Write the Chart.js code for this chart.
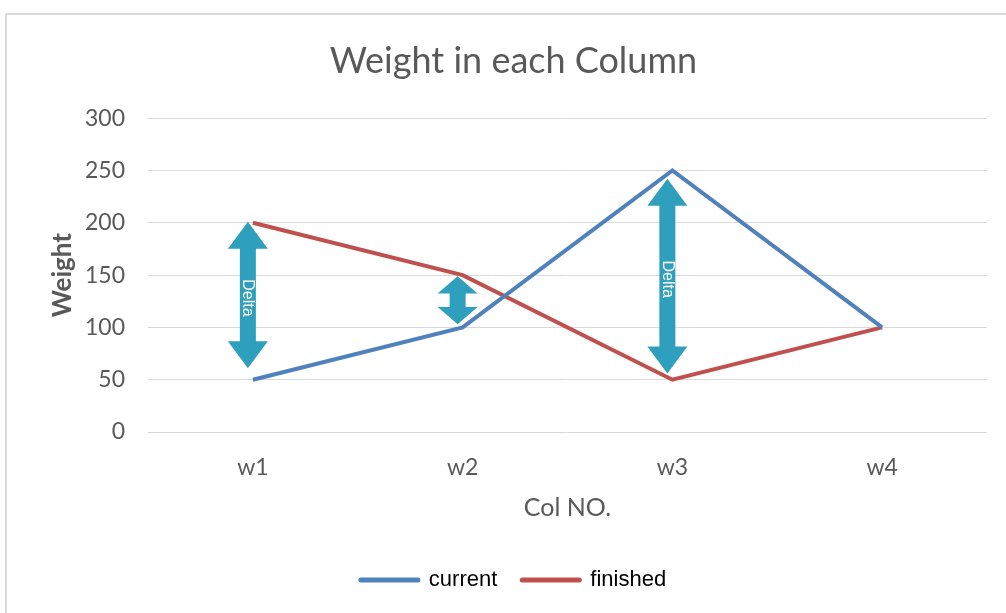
<!DOCTYPE html>
<html>
<head>
<meta charset="utf-8">
<title>Weight in each Column</title>
<script src="https://cdn.jsdelivr.net/npm/chart.js@4.4.1/dist/chart.umd.min.js"></script>
<style>
  html, body { margin: 0; padding: 0; background: #ffffff; }
  #frame {
    position: absolute; left: 5px; top: 13px; width: 1001px; height: 600px;
    border-left: 2px solid #dadada; border-top: 2px solid #dadada; box-sizing: border-box;
  }
  #wrap { position: absolute; left: 0; top: 0; width: 1006px; height: 613px; }
</style>
</head>
<body>
<div id="frame"></div>
<div id="wrap"><canvas id="c" width="1006" height="613"></canvas></div>
<script>
// Column weights
const categories = ['w1', 'w2', 'w3', 'w4'];
const currentValues = [50, 100, 250, 100];
const finishedValues = [200, 150, 50, 100];
const yTicks = [0, 50, 100, 150, 200, 250, 300];

// Delta arrows between the two series
const deltaCategories = ['w1', 'w2', 'w3'];
const deltaTop = [201, 149, 242];
const deltaBottom = [61, 103, 56];
const deltaText = ['Delta', '', 'Delta'];

const GREY = '#595959';
const ARROW_SHIFT = -5;

const deltaArrows = {
  id: 'deltaArrows',
  afterDatasetsDraw(chart) {
    const { ctx } = chart;
    const x = chart.scales.x, y = chart.scales.y;
    deltaCategories.forEach((cat, i) => {
      const cx = x.getPixelForValue(categories.indexOf(cat)) + ARROW_SHIFT;
      const yTop = y.getPixelForValue(deltaTop[i]);
      const yBot = y.getPixelForValue(deltaBottom[i]);
      const len = yBot - yTop;
      const shaft = 16, head = 40;
      const headLen = Math.min(27, len * 0.36);
      ctx.save();
      ctx.fillStyle = '#2f9fbe';
      ctx.beginPath();
      ctx.moveTo(cx, yTop);
      ctx.lineTo(cx + head / 2, yTop + headLen);
      ctx.lineTo(cx + shaft / 2, yTop + headLen);
      ctx.lineTo(cx + shaft / 2, yBot - headLen);
      ctx.lineTo(cx + head / 2, yBot - headLen);
      ctx.lineTo(cx, yBot);
      ctx.lineTo(cx - head / 2, yBot - headLen);
      ctx.lineTo(cx - shaft / 2, yBot - headLen);
      ctx.lineTo(cx - shaft / 2, yTop + headLen);
      ctx.lineTo(cx - head / 2, yTop + headLen);
      ctx.closePath();
      ctx.fill();
      if (deltaText[i]) {
        ctx.translate(cx, (yTop + yBot) / 2 + 3);
        ctx.rotate(Math.PI / 2);
        ctx.fillStyle = '#ffffff';
        ctx.font = '16px "Liberation Sans", Arial, sans-serif';
        ctx.textAlign = 'center';
        ctx.textBaseline = 'middle';
        ctx.fillText(deltaText[i], 0, 0);
      }
      ctx.restore();
    });
  }
};

const font = (size, weight) => ({ family: 'Lato, "Open Sans", sans-serif', size, weight: weight || 'normal' });

new Chart(document.getElementById('c'), {
  type: 'line',
  data: {
    labels: categories,
    datasets: [
      { label: 'current', data: currentValues, borderColor: '#4F81BD', backgroundColor: '#4F81BD',
        borderWidth: 4, pointRadius: 0, tension: 0 },
      { label: 'finished', data: finishedValues, borderColor: '#C0504D', backgroundColor: '#C0504D',
        borderWidth: 4, pointRadius: 0, tension: 0 }
    ]
  },
  options: {
    responsive: false,
    animation: false,
    layout: { padding: { left: 40, right: 19, top: 0, bottom: 12 } },
    plugins: {
      title: {
        display: true, text: 'Weight in each Column', color: GREY,
        font: font(36), padding: { top: 40, bottom: 35 }
      },
      legend: {
        position: 'bottom',
        labels: {
          color: '#000000',
          font: { family: '"Liberation Sans", Arial, sans-serif', size: 22 },
          usePointStyle: true,
          pointStyleWidth: 57,
          boxHeight: 5,
          padding: 25,
          generateLabels(chart) {
            return chart.data.datasets.map((ds, i) => ({
              text: ds.label, fillStyle: ds.borderColor, strokeStyle: ds.borderColor,
              lineWidth: 5, lineCap: 'round', pointStyle: 'line', datasetIndex: i, hidden: false,
              fontColor: '#000000'
            }));
          }
        }
      },
      tooltip: { enabled: false }
    },
    scales: {
      x: {
        offset: true,
        afterFit(scale) { scale.height = 112; },
        grid: { display: false },
        border: { display: false },
        ticks: { color: GREY, font: font(23), padding: 14 },
        title: { display: true, text: 'Col NO.', color: GREY, font: font(25), padding: { top: 0, bottom: 21 } }
      },
      y: {
        min: 0, max: 300,
        afterFit(scale) { scale.width = 108; },
        afterBuildTicks(scale) { scale.ticks = yTicks.map(v => ({ value: v })); },
        grid: { color: '#d9d9d9', lineWidth: 1, drawTicks: false },
        border: { display: false },
        ticks: { color: GREY, font: font(23), padding: 23 },
        title: { display: true, text: 'Weight', color: GREY, font: font(26, 'bold'), padding: { top: 7, bottom: 0 } }
      }
    }
  },
  plugins: [deltaArrows]
});
</script>
</body>
</html>
